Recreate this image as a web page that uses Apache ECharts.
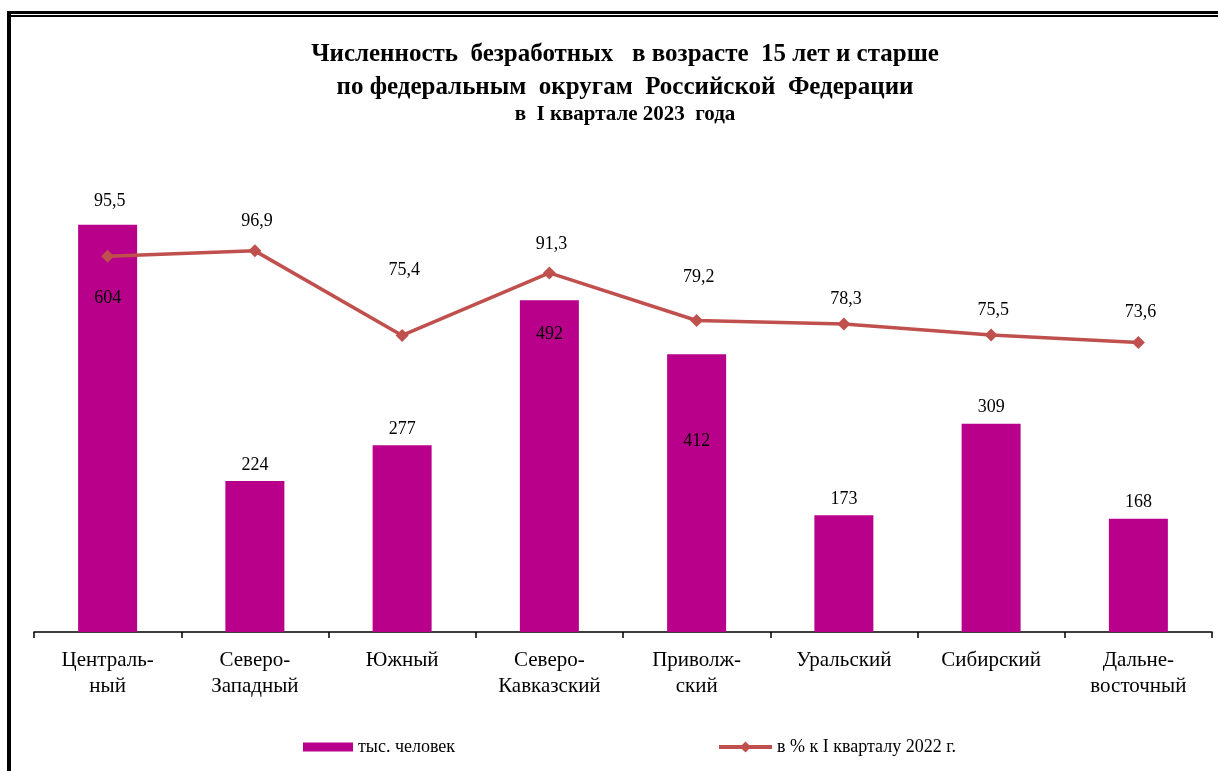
<!DOCTYPE html>
<html><head><meta charset="utf-8">
<script src="https://cdn.jsdelivr.net/npm/echarts@6/dist/echarts.min.js"></script>
<style>html,body{margin:0;padding:0;background:#fff}#c{width:1218px;height:771px}</style>
</head><body><div id="c"></div>
<script>
const categories = ['Централь-\nный','Северо-\nЗападный','Южный','Северо-\nКавказский','Приволж-\nский','Уральский','Сибирский','Дальне-\nвосточный'];
const unemployed = [604, 224, 277, 492, 412, 173, 309, 168];
const percentOfPrev = [95.5, 96.9, 75.4, 91.3, 79.2, 78.3, 75.5, 73.6];
const seriesNames = ['тыс. человек', 'в % к I кварталу 2022 г.'];
const titleLines = ['Численность  безработных   в возрасте  15 лет и старше', 'по федеральным  округам  Российской  Федерации', 'в  I квартале 2023  года'];

// label placement (styling, separate from data)
const barInside = {0: 74, 3: 34, 4: 87};
const lineLabelRise = [55, 30, 65, 29, 43, 25, 25, 30];

const FONT = '"Liberation Serif","Times New Roman",serif';
const chart = echarts.init(document.getElementById('c'), null, {renderer: 'canvas'});

const barData = unemployed.map((v, i) => {
  const item = {value: v};
  if (barInside[i] !== undefined) {
    item.label = {position: ['50%', barInside[i]], align: 'center', verticalAlign: 'middle'};
  }
  return item;
});
const lineData = percentOfPrev.map((v, i) => ({
  value: v,
  label: {position: 'inside', offset: [2, -lineLabelRise[i]]}
}));

const titleText = (t, y, size) => ({
  type: 'text', x: 625, y: y,
  style: {text: t, fill: '#000', font: 'bold ' + size + 'px ' + FONT, textAlign: 'center', textVerticalAlign: 'middle'}
});

chart.setOption({
  animation: false,
  backgroundColor: '#fff',
  textStyle: {fontFamily: FONT},
  legend: [
    {data: [seriesNames[0]], left: 298, top: 733, itemWidth: 50, itemHeight: 9, itemGap: 6, icon: 'rect',
     textStyle: {fontFamily: FONT, fontSize: 18, color: '#000'}},
    {data: [seriesNames[1]], left: 712, top: 733, itemWidth: 53, itemHeight: 14, itemGap: 6,
     lineStyle: {width: 4, color: '#C0504D'},
     textStyle: {fontFamily: FONT, fontSize: 18, color: '#000'}}
  ],
  grid: {left: 34, right: 6, top: 160, bottom: 139},
  xAxis: {
    type: 'category', data: categories, boundaryGap: true,
    axisLine: {lineStyle: {color: '#000', width: 1.5}},
    axisTick: {show: true, length: 6, lineStyle: {color: '#000', width: 1.5}},
    axisLabel: {fontFamily: FONT, fontSize: 21, color: '#000', lineHeight: 26, margin: 15, interval: 0}
  },
  yAxis: [
    {type: 'value', min: 0, max: 700, show: false, splitLine: {show: false}},
    {type: 'value', min: 0, max: 120, show: false, splitLine: {show: false}}
  ],
  series: [
    {name: seriesNames[0], type: 'bar', data: barData, barWidth: 59, yAxisIndex: 0,
     itemStyle: {color: '#B8008A'},
     label: {show: true, position: 'top', distance: 7, fontFamily: FONT, fontSize: 18, color: '#000'}},
    {name: seriesNames[1], type: 'line', data: lineData, yAxisIndex: 1,
     symbol: 'diamond', symbolSize: 13,
     lineStyle: {color: '#C0504D', width: 3.5},
     itemStyle: {color: '#C0504D'},
     label: {show: true, fontFamily: FONT, fontSize: 18, color: '#000',
       formatter: p => String(p.value).replace('.', ',')}}
  ],
  graphic: [
    {type: 'rect', shape: {x: 7, y: 11, width: 1211, height: 3}, style: {fill: '#000'}},
    {type: 'rect', shape: {x: 7, y: 15, width: 1211, height: 2}, style: {fill: '#000'}},
    {type: 'rect', shape: {x: 7, y: 11, width: 4, height: 760}, style: {fill: '#000'}},
    titleText(titleLines[0], 55, 25),
    titleText(titleLines[1], 88, 25),
    titleText(titleLines[2], 115, 21)
  ]
});
</script></body></html>
